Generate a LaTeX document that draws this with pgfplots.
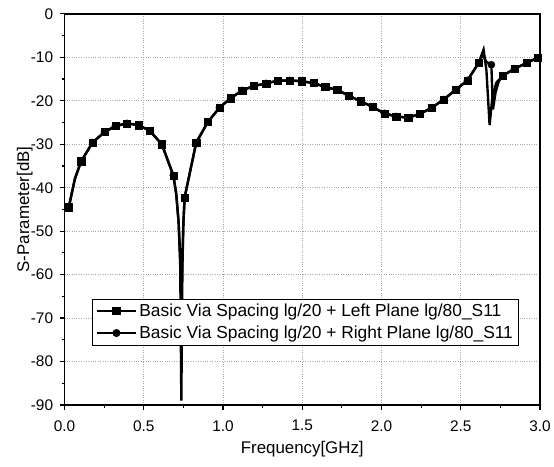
\documentclass[border=0pt]{standalone}
\usepackage{pgfplots}
\pgfplotsset{compat=1.18}
\usepackage{fontspec}
\setmainfont{Liberation Sans}
\begin{document}
\begin{tikzpicture}
\begin{axis}[
  scale only axis,
  width=479pt, height=394pt,
  xmin=0, xmax=3, ymin=-90, ymax=0,
  xtick={0,0.5,...,3.0},
  ytick={-90,-80,...,0},
  minor x tick num=1,
  minor y tick num=1,
  xticklabel style={/pgf/number format/fixed,/pgf/number format/fixed zerofill,/pgf/number format/precision=1, yshift=-7pt},
  yticklabel style={xshift=-3pt},
  /pgf/number format/assume math mode=true,
  tick align=outside,
  xtick pos=left, ytick pos=left,
  major tick length=5pt, minor tick length=3pt,
  tick style={line width=1.2pt,black},
  axis line style={line width=1.8pt},
  grid=major,
  major grid style={gray!70, dotted, line width=0.7pt},
  ticklabel style={font=\fontsize{15.5}{17}\selectfont},
  xlabel={Frequency[GHz]}, ylabel={S-Parameter[dB]},
  every axis x label/.style={at={(axis description cs:0.5,0)}, anchor=center, yshift=-44pt, font=\fontsize{17}{19}\selectfont},
  every axis y label/.style={at={(axis description cs:0,0.5)}, anchor=center, rotate=90, yshift=40pt, font=\fontsize{17}{19}\selectfont},
  legend style={at={(0.058,0.272)}, anchor=north west, draw=black, line width=0.8pt,
    font=\fontsize{17.5}{19}\selectfont, row sep=4pt, inner sep=3pt, cells={anchor=west}},
  legend image code/.code={\draw[line width=2.4pt,black] (0cm,0cm)--(1.4cm,0cm); \draw[#1] plot coordinates {(0.7cm,0cm)};},
]
% Series A line
\addplot[black, line width=2.4pt, forget plot] coordinates {
(0.027,-44.5) (0.065,-38.0) (0.105,-33.9) (0.177,-29.6) (0.252,-27.2) (0.321,-25.8)
(0.394,-25.2) (0.468,-25.6) (0.538,-26.9) (0.614,-30.0) (0.687,-37.2) (0.705,-41.5)
(0.720,-48) (0.730,-58) (0.737,-89) (0.744,-58) (0.750,-48) (0.758,-42.2)
(0.831,-29.6) (0.904,-24.9) (0.977,-21.6) (1.048,-19.4) (1.121,-17.6) (1.194,-16.6)
(1.272,-16.0) (1.343,-15.4) (1.421,-15.3) (1.495,-15.5) (1.570,-15.9) (1.645,-16.8)
(1.720,-17.5) (1.793,-18.8) (1.868,-20.1) (1.943,-21.4) (2.018,-22.9) (2.093,-23.6)
(2.168,-23.9) (2.243,-23.0) (2.317,-21.6) (2.392,-19.7) (2.467,-17.5) (2.542,-15.3)
(2.613,-11.3) (2.644,-8.2) (2.662,-13) (2.682,-25.6) (2.700,-19) (2.725,-15.8)
(2.766,-14.2) (2.839,-12.6) (2.916,-11.3) (2.985,-10.1)
};
% Series A marks
\addplot[black, only marks, mark=square*, mark size=3.6pt] coordinates {
(0.027,-44.5) (0.105,-33.9) (0.177,-29.6) (0.252,-27.2) (0.321,-25.8)
(0.394,-25.2) (0.468,-25.6) (0.538,-26.9) (0.614,-30.0) (0.687,-37.2) (0.758,-42.2)
(0.831,-29.6) (0.904,-24.9) (0.977,-21.6) (1.048,-19.4) (1.121,-17.6) (1.194,-16.6)
(1.272,-16.0) (1.343,-15.4) (1.421,-15.3) (1.495,-15.5) (1.570,-15.9) (1.645,-16.8)
(1.720,-17.5) (1.793,-18.8) (1.868,-20.1) (1.943,-21.4) (2.018,-22.9) (2.093,-23.6)
(2.168,-23.9) (2.243,-23.0) (2.317,-21.6) (2.392,-19.7) (2.467,-17.5) (2.542,-15.3)
(2.613,-11.3) (2.766,-14.2) (2.839,-12.6) (2.916,-11.3) (2.985,-10.1)
};
\addlegendentry{Basic Via Spacing lg/20 + Left Plane lg/80\_S11}
% Series B line
\addplot[black, line width=2.4pt, forget plot] coordinates {
(0.027,-44.5) (0.065,-38.0) (0.105,-33.9) (0.177,-29.6) (0.252,-27.2) (0.321,-25.8)
(0.394,-25.2) (0.468,-25.6) (0.538,-26.9) (0.614,-30.0) (0.687,-37.2) (0.705,-41.5)
(0.720,-48) (0.730,-56) (0.737,-66) (0.744,-56) (0.750,-48) (0.758,-42.2)
(0.831,-29.6) (0.904,-24.9) (0.977,-21.6) (1.048,-19.4) (1.121,-17.6) (1.194,-16.6)
(1.272,-16.0) (1.343,-15.4) (1.421,-15.3) (1.495,-15.5) (1.570,-15.9) (1.645,-16.8)
(1.720,-17.5) (1.793,-18.8) (1.868,-20.1) (1.943,-21.4) (2.018,-22.9) (2.093,-23.6)
(2.168,-23.9) (2.243,-23.0) (2.317,-21.6) (2.392,-19.7) (2.467,-17.5) (2.542,-15.3)
(2.613,-11.3) (2.640,-9.3) (2.660,-11.0) (2.693,-11.7) (2.703,-22) (2.720,-18) (2.740,-15.5)
(2.766,-14.2) (2.839,-12.6) (2.916,-11.3) (2.985,-10.1)
};
% Series B marks
\addplot[black, only marks, mark=*, mark size=3.6pt] coordinates {
(0.027,-44.5) (0.105,-33.9) (0.177,-29.6) (0.252,-27.2) (0.321,-25.8)
(0.394,-25.2) (0.468,-25.6) (0.538,-26.9) (0.614,-30.0) (0.687,-37.2) (0.758,-42.2)
(0.831,-29.6) (0.904,-24.9) (0.977,-21.6) (1.048,-19.4) (1.121,-17.6) (1.194,-16.6)
(1.272,-16.0) (1.343,-15.4) (1.421,-15.3) (1.495,-15.5) (1.570,-15.9) (1.645,-16.8)
(1.720,-17.5) (1.793,-18.8) (1.868,-20.1) (1.943,-21.4) (2.018,-22.9) (2.093,-23.6)
(2.168,-23.9) (2.243,-23.0) (2.317,-21.6) (2.392,-19.7) (2.467,-17.5) (2.542,-15.3)
(2.613,-11.3) (2.693,-11.7) (2.766,-14.2) (2.839,-12.6) (2.916,-11.3) (2.985,-10.1)
};
\addlegendentry{Basic Via Spacing lg/20 + Right Plane lg/80\_S11}
\end{axis}
\path ([xshift=-65pt,yshift=14pt]current axis.north west) ([xshift=10pt,yshift=-62pt]current axis.south east);
\end{tikzpicture}
\end{document}
